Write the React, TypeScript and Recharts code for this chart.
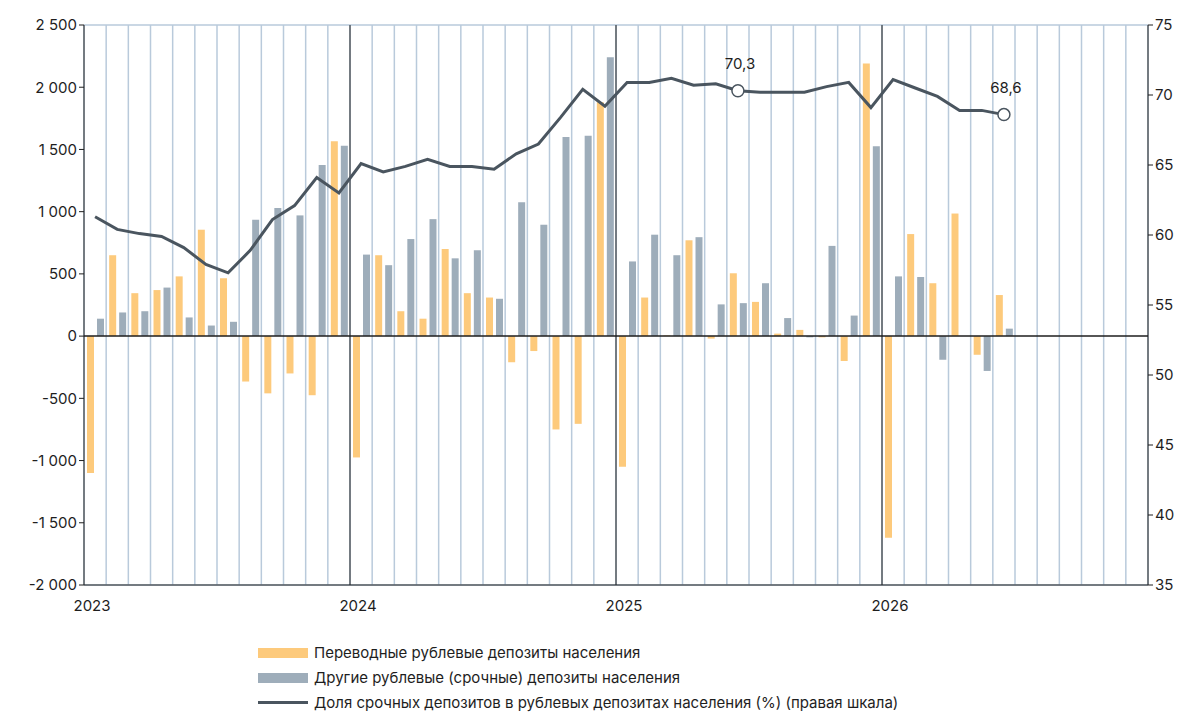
import React from 'react'
import {
  ComposedChart,
  Bar,
  Line,
  XAxis,
  YAxis,
  CartesianGrid,
  ReferenceLine,
} from 'recharts'

// Monthly values, Jan 2023 .. Jun 2026 (bn rub / %)
const transfer = [
  -1100, 650, 345, 370, 480, 855, 465, -365, -460, -300, -475, 1565,
  -975, 650, 200, 140, 700, 345, 310, -210, -120, -750, -705, 1880,
  -1050, 310, 5, 770, -20, 505, 275, 20, 50, -10, -200, 2190,
  -1620, 820, 425, 985, -150, 330,
]
const term = [
  140, 190, 200, 390, 150, 85, 115, 935, 1030, 970, 1375, 1530,
  655, 570, 780, 940, 625, 690, 300, 1075, 895, 1600, 1610, 2240,
  600, 815, 650, 795, 255, 265, 425, 145, -10, 725, 165, 1525,
  480, 475, -190, 0, -280, 60,
]
const share = [
  61.3, 60.4, 60.1, 59.9, 59.1, 57.9, 57.3, 58.9, 61.1, 62.1, 64.1, 63.0,
  65.1, 64.5, 64.9, 65.4, 64.9, 64.9, 64.7, 65.8, 66.5, 68.4, 70.4, 69.2,
  70.9, 70.9, 71.2, 70.7, 70.8, 70.3, 70.2, 70.2, 70.2, 70.6, 70.9, 69.1,
  71.1, 70.5, 69.9, 68.9, 68.9, 68.6,
]
const labelled = [29, 41]
const years = ['2023', '2024', '2025', '2026']
const leftTicks = [-2000, -1500, -1000, -500, 0, 500, 1000, 1500, 2000, 2500]
const rightTicks = [35, 40, 45, 50, 55, 60, 65, 70, 75]
const monthTicks = Array.from({ length: 49 }, (_, i) => i)

const ORANGE = '#fdca7c'
const GRAY = '#9eadba'
const LINE = '#4a555f'
const GRID = '#b9cadb'
const TEXT = '#1e1e1e'
const FONT = 'Inter, "Noto Sans", sans-serif'

const data = transfer.map((t, i) => ({
  x: i + 0.5,
  transfer: t,
  term: term[i],
  share: share[i],
}))

const fmt = (v: number) =>
  Math.abs(v) >= 1000
    ? (v < 0 ? '-' : '') + Math.floor(Math.abs(v) / 1000) + ' ' + String(Math.abs(v) % 1000).padStart(3, '0')
    : String(v)

const ShareDot = (props: any) => {
  const { cx, cy, index } = props
  if (!labelled.includes(index)) return <g key={index} />
  return (
    <g key={index}>
      <circle cx={cx} cy={cy} r={6} fill="#fff" stroke={LINE} strokeWidth={1.5} />
      <text x={cx + 2} y={cy - 22} textAnchor="middle" fontSize={15} fill={TEXT} fontFamily={FONT}>
        {share[index].toFixed(1).replace('.', ',')}
      </text>
    </g>
  )
}

const YearTick = (props: any) => {
  const { x, y, payload } = props
  const v = payload.value
  if (v % 12 !== 0 || v >= 48) return <g />
  return (
    <text x={x + 8} y={y + 18} textAnchor="middle" fontSize={15} fill={TEXT} fontFamily={FONT}>
      {years[v / 12]}
    </text>
  )
}

export default function App() {
  document.body.style.margin = '0'
  return (
    <div style={{ position: 'relative', width: 1200, height: 726, background: '#fff', fontFamily: FONT }}>
      <ComposedChart
        width={1200}
        height={620}
        data={data}
        margin={{ top: 25, right: 10, left: 10, bottom: 5 }}
        barGap={3}
      >
        <CartesianGrid stroke={GRID} strokeWidth={1.5} />
        <XAxis
          dataKey="x"
          type="number"
          domain={[0, 48]}
          ticks={monthTicks}
          interval={0}
          tick={<YearTick />}
          tickLine={false}
          axisLine={{ stroke: TEXT }}
          height={30}
        />
        <YAxis
          yAxisId="left"
          domain={[-2000, 2500]}
          ticks={leftTicks}
          tickFormatter={fmt}
          width={74}
          tick={{ fill: TEXT, fontSize: 15, fontFamily: FONT }}
          tickLine={{ stroke: TEXT }}
          tickSize={5}
          axisLine={{ stroke: TEXT }}
        />
        <YAxis
          yAxisId="right"
          orientation="right"
          domain={[35, 75]}
          ticks={rightTicks}
          width={42}
          tick={{ fill: TEXT, fontSize: 15, fontFamily: FONT }}
          tickLine={{ stroke: TEXT }}
          tickSize={5}
          axisLine={{ stroke: TEXT }}
        />
        {[12, 24, 36].map((v) => (
          <ReferenceLine key={v} yAxisId="left" x={v} stroke={TEXT} strokeWidth={1} />
        ))}
        <ReferenceLine yAxisId="left" y={0} stroke={TEXT} strokeWidth={1.5} />
        <Bar yAxisId="left" dataKey="transfer" fill={ORANGE} barSize={7} isAnimationActive={false} />
        <Bar yAxisId="left" dataKey="term" fill={GRAY} barSize={7} isAnimationActive={false} />
        <Line
          yAxisId="right"
          dataKey="share"
          type="linear"
          stroke={LINE}
          strokeWidth={3}
          dot={<ShareDot />}
          activeDot={false}
          isAnimationActive={false}
        />
      </ComposedChart>
      <div style={{ position: 'absolute', left: 258, top: 640, fontSize: 15, color: TEXT, lineHeight: '25px' }}>
        {[
          { c: ORANGE, t: 'Переводные рублевые депозиты населения', line: false },
          { c: GRAY, t: 'Другие рублевые (срочные) депозиты населения', line: false },
          { c: LINE, t: 'Доля срочных депозитов в рублевых депозитах населения (%) (правая шкала)', line: true },
        ].map((it) => (
          <div key={it.t} style={{ display: 'flex', alignItems: 'center' }}>
            <span
              style={{
                display: 'inline-block',
                width: 50,
                height: it.line ? 3 : 10,
                background: it.c,
                marginRight: 6,
              }}
            />
            {it.t}
          </div>
        ))}
      </div>
    </div>
  )
}
